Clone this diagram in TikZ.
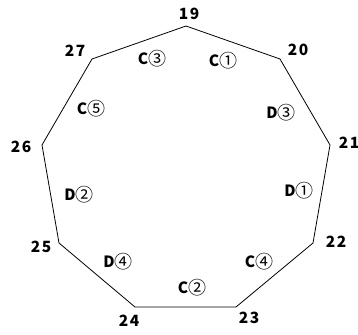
\documentclass[tikz,border=0pt]{standalone}
\usepackage{fontspec}
\setmainfont{Noto Sans CJK JP}[LetterSpace=10]
\newfontfamily\circfont{Noto Sans CJK JP}
\newcommand{\cdg}[1]{{\circfont\mdseries\fontsize{18}{18}\selectfont\raisebox{-1.2pt}{#1}}}
\begin{document}
\begin{tikzpicture}[x=1pt,y=-1pt,
  lbl/.style={font=\fontsize{15.5}{15.5}\selectfont\bfseries, inner sep=0pt},
  edge/.style={draw=black, line width=0.8pt, line join=miter}]
\useasboundingbox (0,0) rectangle (358,334);
% vertices
\coordinate (v19) at (186,26);
\coordinate (v20) at (280,59);
\coordinate (v21) at (330,145);
\coordinate (v22) at (313,243);
\coordinate (v23) at (236,307);
\coordinate (v24) at (135,307);
\coordinate (v25) at (59,243);
\coordinate (v26) at (42,145);
\coordinate (v27) at (92,59);
\draw[edge] (v19) -- (v20) -- (v21) -- (v22) -- (v23) -- (v24) -- (v25) -- (v26) -- (v27) -- cycle;
% vertex labels
\node[lbl] (n19) at (189,14) {19};
\node[lbl] (n20) at (298,50) {20};
\node[lbl] (n21) at (349,143) {21};
\node[lbl] (n22) at (336,242) {22};
\node[lbl] (n23) at (249,318) {23};
\node[lbl] (n24) at (129,321) {24};
\node[lbl] (n25) at (41,247) {25};
\node[lbl] (n26) at (21,147) {26};
\node[lbl] (n27) at (75,51) {27};
% inner labels
\node[lbl] (c1) at (223,61) {C\cdg{①}};
\node[lbl] (c3) at (152,59) {C\cdg{③}};
\node[lbl] (c5) at (91,109) {C\cdg{⑤}};
\node[lbl] (d3) at (281,113) {D\cdg{③}};
\node[lbl] (d2) at (79,195) {D\cdg{②}};
\node[lbl] (d1) at (299,191) {D\cdg{①}};
\node[lbl] (d4) at (118,262) {D\cdg{④}};
\node[lbl] (c4) at (259,262) {C\cdg{④}};
\node[lbl] (c2) at (192,288) {C\cdg{②}};
\end{tikzpicture}
\end{document}
